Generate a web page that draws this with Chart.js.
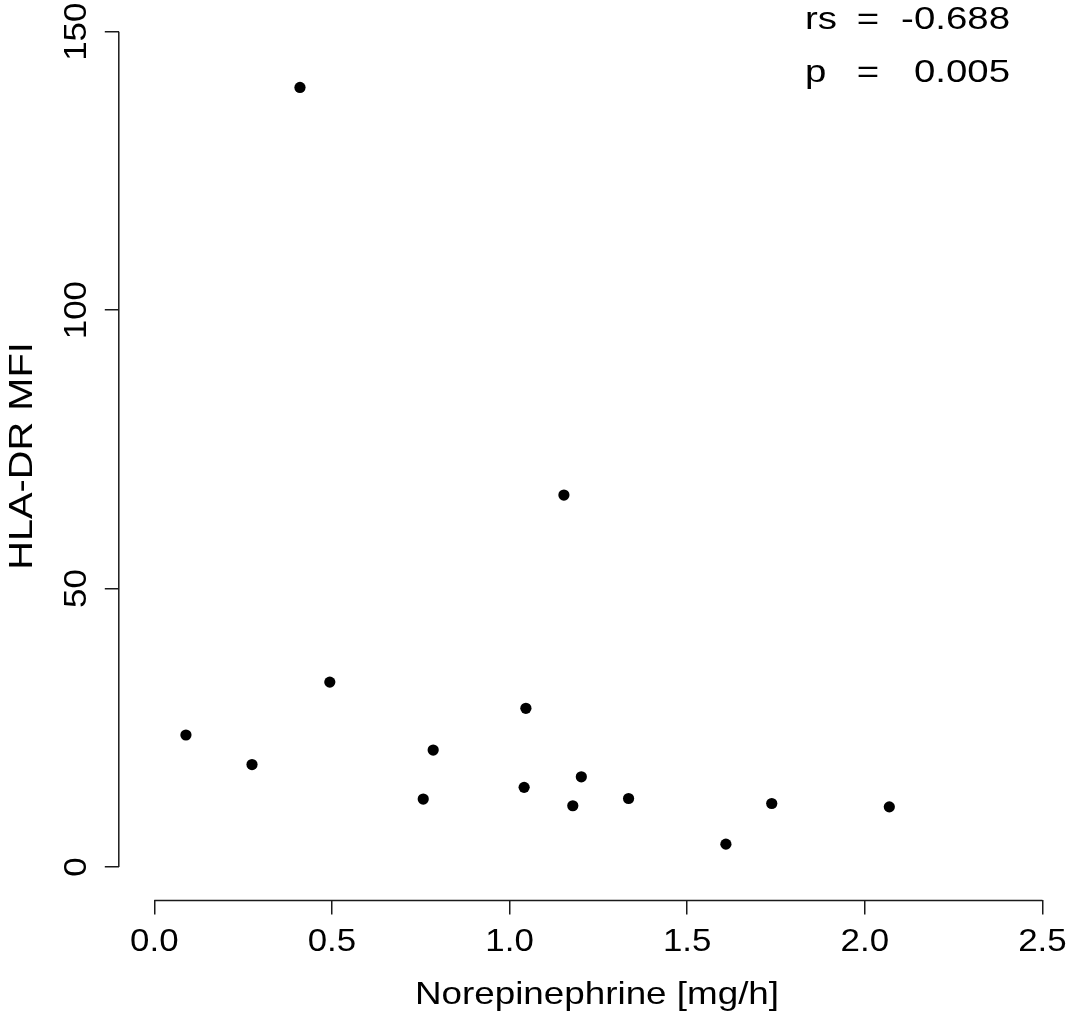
<!DOCTYPE html>
<html>
<head>
<meta charset="utf-8">
<script src="https://cdn.jsdelivr.net/npm/chart.js@4"></script>
<style>
  html, body { margin: 0; padding: 0; background: #fff; overflow: hidden; }
  #wrap { width: 1068px; height: 1017px; }
</style>
</head>
<body>
<div id="wrap"><canvas id="myChart" width="1068" height="1017"></canvas></div>
<script>
// values
const norepinephrine = [0.089, 0.275, 0.410, 0.494, 0.757, 0.785, 1.041, 1.046, 1.153, 1.178, 1.202, 1.335, 1.609, 1.738, 2.069];
const hlaDrMfi = [23.7, 18.4, 140.0, 33.2, 12.2, 21.0, 14.3, 28.5, 66.8, 11.0, 16.2, 12.3, 4.1, 11.4, 10.8];

const xTicks = [0, 0.5, 1, 1.5, 2, 2.5];
const xTickLabels = ["0.0", "0.5", "1.0", "1.5", "2.0", "2.5"];
const yTicks = [0, 50, 100, 150];
const yTickLabels = ["0", "50", "100", "150"];

const xTitle = "Norepinephrine [mg/h]";
const yTitle = "HLA-DR MFI";
const statNames = ["rs", "p"];
const statValues = ["-0.688", "0.005"];

const FONT = '"Liberation Sans", Arial, Helvetica, sans-serif';
const INK = "#1a1a1a";

function putText(ctx, text, x, y, size, align, sx, rot) {
  ctx.save();
  ctx.translate(x, y);
  if (rot) ctx.rotate(rot);
  ctx.scale(sx, 1);
  ctx.font = size + "px " + FONT;
  ctx.fillStyle = "#000";
  ctx.textAlign = align;
  ctx.textBaseline = "alphabetic";
  ctx.fillText(text, 0, 0);
  ctx.restore();
}

// R style axes: line only from first to last tick, labels and titles
const rAxes = {
  id: "rAxes",
  afterDraw(chart) {
    const ctx = chart.ctx;
    const xs = chart.scales.x, ys = chart.scales.y;
    const area = chart.chartArea;

    ctx.save();
    ctx.strokeStyle = INK;
    ctx.lineWidth = 1.5;
    ctx.beginPath();
    ctx.moveTo(xs.getPixelForValue(xTicks[0]), area.bottom);
    ctx.lineTo(xs.getPixelForValue(xTicks[xTicks.length - 1]), area.bottom);
    ctx.moveTo(area.left, ys.getPixelForValue(yTicks[0]));
    ctx.lineTo(area.left, ys.getPixelForValue(yTicks[yTicks.length - 1]));
    ctx.stroke();
    ctx.restore();

    xTicks.forEach((v, i) => {
      putText(ctx, xTickLabels[i], xs.getPixelForValue(v), 951, 32, "center", 1.09);
    });
    yTicks.forEach((v, i) => {
      putText(ctx, yTickLabels[i], 86, ys.getPixelForValue(v), 32, "center", 1.09, -Math.PI / 2);
    });

    putText(ctx, xTitle, 597, 1004, 32, "center", 1.15);
    putText(ctx, yTitle, 31.5, 456, 34, "center", 1.17, -Math.PI / 2);

    statNames.forEach((name, i) => {
      const base = 28.5 + i * 53.4;
      putText(ctx, name, 805, base, 32, "left", 1.2);
      putText(ctx, "=", 868, base, 32, "center", 1.2);
      putText(ctx, statValues[i], 1010, base, 32, "right", 1.2);
    });
  }
};

const ctx = document.getElementById("myChart").getContext("2d");
const myChart = new Chart(ctx, {
  type: "scatter",
  data: {
    datasets: [{
      data: norepinephrine.map((x, i) => ({ x: x, y: hlaDrMfi[i] })),
      backgroundColor: "#000",
      borderWidth: 0,
      pointRadius: 5.6,
      pointHoverRadius: 5.6
    }]
  },
  options: {
    responsive: false,
    maintainAspectRatio: false,
    animation: false,
    layout: { padding: 0, autoPadding: false },
    plugins: {
      legend: { display: false },
      tooltip: { enabled: false }
    },
    scales: {
      x: {
        type: "linear",
        min: -0.1,
        max: 2.572,
        afterBuildTicks: (s) => { s.ticks = xTicks.map(v => ({ value: v })); },
        afterFit: (s) => { s.height = 116.6; },
        ticks: { display: false },
        grid: { display: true, drawOnChartArea: false, drawTicks: true, tickLength: 14, color: INK, lineWidth: 1.5 },
        border: { display: false }
      },
      y: {
        type: "linear",
        min: -6,
        max: 155.7,
        afterBuildTicks: (s) => { s.ticks = yTicks.map(v => ({ value: v })); },
        afterFit: (s) => { s.width = 118.8; },
        ticks: { display: false },
        grid: { display: true, drawOnChartArea: false, drawTicks: true, tickLength: 14, color: INK, lineWidth: 1.5 },
        border: { display: false }
      }
    }
  },
  plugins: [rAxes]
});
</script>
</body>
</html>
